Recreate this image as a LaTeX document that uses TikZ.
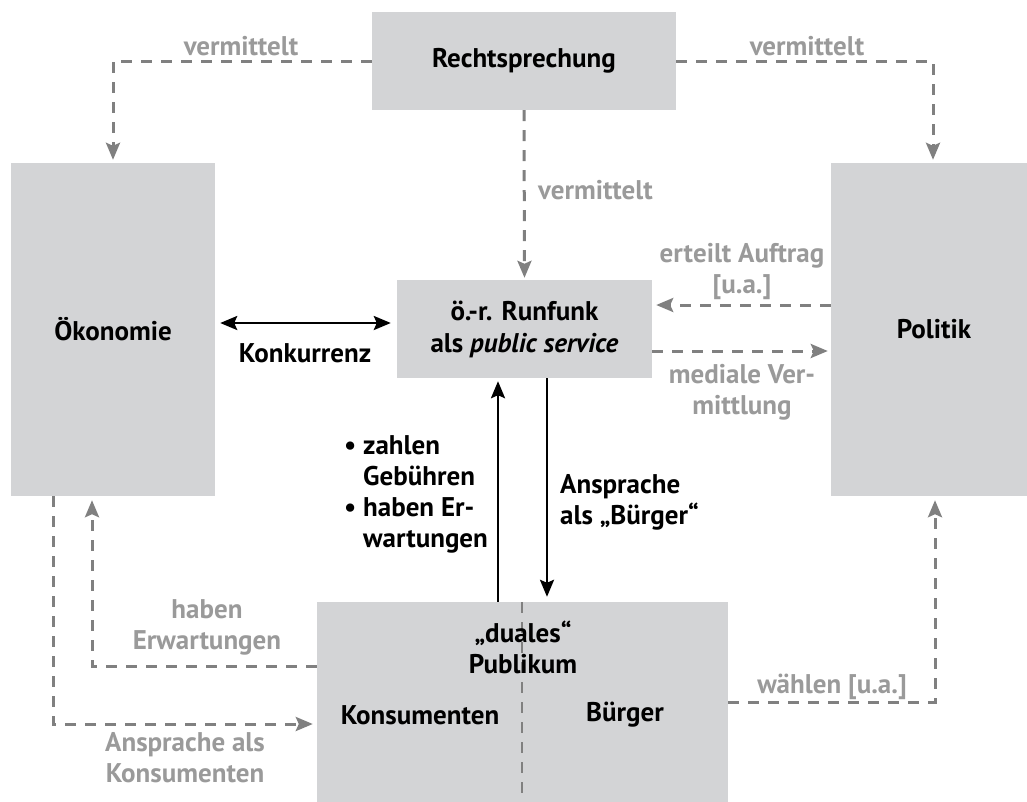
\documentclass[tikz,border=0pt]{standalone}
\usepackage{fontspec}
\setmainfont{PT Sans}
\usetikzlibrary{arrows.meta,positioning}
\definecolor{boxgray}{HTML}{D3D4D6}
\definecolor{linegray}{HTML}{808080}
\definecolor{textgray}{HTML}{9A9A9A}
\tikzset{
  area/.style={fill=boxgray, draw=none, inner sep=0pt, font=\bfseries\fontsize{27}{32}\selectfont, align=center},
  lbl/.style={font=\bfseries\fontsize{27}{31}\selectfont, inner sep=0pt, align=center},
  glbl/.style={lbl, text=textgray},
  link/.style={draw=linegray, line width=3pt, dash pattern=on 11pt off 9pt,
    -{Stealth[length=17pt,width=14pt,inset=3pt]}},
  solid link/.style={draw=black, line width=2.6pt,
    -{Stealth[length=17pt,width=14pt,inset=3pt]}},
}
\begin{document}
\begin{tikzpicture}[x=1pt,y=-1pt]
\useasboundingbox (0,0) rectangle (1027,801);

% the five areas
\node[area, minimum width=304pt, minimum height=98pt] (recht) at (524,61) {Rechtsprechung};
\node[area, minimum width=204pt, minimum height=333pt] (oekon) at (113,329.5) {Ökonomie};
\node[area, minimum width=206pt, minimum height=333pt] (politik) at (934,329.5) {Politik};
\node[area, minimum width=255pt, minimum height=98pt] (rundfunk) at (524.5,329)
  {ö.-r. Runfunk\\als \textit{public service}};
\node[area, minimum width=411pt, minimum height=216pt] (publikum) at (522.5,710) {};

% split of the audience into consumers and citizens
\coordinate (splittop) at (522,602);
\coordinate (splitbot) at (522,801);
\draw[draw=linegray, line width=2.4pt, dash pattern=on 11pt off 9pt] (splittop) -- (splitbot);

\node[lbl] (dual) at (523,647) {„duales“\\Publikum};
\node[lbl] (kons) at (420,715) {Konsumenten};
\node[lbl] (buerger) at (625,715) {Bürger};

% jurisdiction mediates
\coordinate (rl) at (113,61);
\coordinate (rr) at (933,61);
\draw[link, shorten >=3pt] (recht.west |- rl) -- (rl) -- (rl |- oekon.north);
\draw[link, shorten >=3pt] (recht.east |- rr) -- (rr) -- (rr |- politik.north);
\draw[link, shorten >=2pt] (recht.south) -- (rundfunk.north);
\node[glbl] (v1) at (241,46) {vermittelt};
\node[glbl] (v2) at (807,46) {vermittelt};
\node[glbl, anchor=west] (v3) at (538,190) {vermittelt};

% competition
\coordinate (kl) at (215,323);
\draw[draw=black, line width=2.6pt,
  {Stealth[length=17pt,width=14pt,inset=3pt]}-{Stealth[length=17pt,width=14pt,inset=3pt]},
  shorten <=5pt, shorten >=6pt] (oekon.east |- kl) -- (rundfunk.west |- kl);
\node[lbl] (konk) at (305,353) {Konkurrenz};

% politics and broadcasting
\coordinate (pa) at (831,305);
\coordinate (pb) at (652,351);
\draw[link, shorten >=4pt] (politik.west |- pa) -- (rundfunk.east |- pa);
\draw[link, shorten >=3pt] (rundfunk.east |- pb) -- (politik.west |- pb);
\node[glbl] (auftrag) at (742,271) {erteilt Auftrag\\{[u.a.]}};
\node[glbl] (medial) at (742,392) {mediale Ver-\\mittlung};

% broadcasting and audience
\coordinate (up) at (498,600);
\coordinate (down) at (547,380);
\draw[solid link, shorten >=3pt] (up |- publikum.north) -- (up |- rundfunk.south);
\draw[solid link, shorten >=5pt] (down |- rundfunk.south) -- (down |- publikum.north);
\node[lbl, anchor=west, align=left] (erw) at (363,494)
  {\llap{\textbullet\hspace{7pt}}zahlen\\Gebühren\\\llap{\textbullet\hspace{7pt}}haben Er-\\wartungen};
\node[lbl, anchor=west, align=left] (ansp) at (560,502) {Ansprache\\als „Bürger“};

% economy and audience
\coordinate (hb) at (92,666);
\coordinate (ak) at (53,724);
\draw[link, shorten >=4pt] (publikum.west |- hb) -- (hb) -- (hb |- oekon.south);
\draw[link, shorten >=4pt] (ak |- oekon.south) -- (ak) -- (publikum.west |- ak);
\node[glbl] (haben) at (207,627) {haben\\Erwartungen};
\node[glbl] (anspk) at (185,758) {Ansprache als\\Konsumenten};

% audience and politics
\coordinate (wp) at (935,702);
\draw[link, shorten >=4pt] (publikum.east |- wp) -- (wp) -- (wp |- politik.south);
\node[glbl] (waehlen) at (832,687) {wählen [u.a.]};
\end{tikzpicture}
\end{document}
